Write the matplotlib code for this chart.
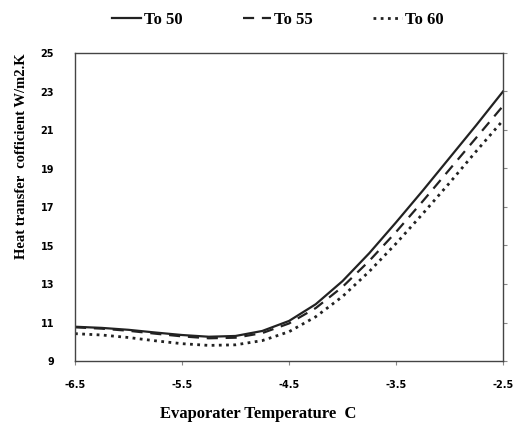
import matplotlib.pyplot as plt

temps = [-6.5, -6.25, -6.0, -5.75, -5.5, -5.25, -5.0, -4.75, -4.5,
         -4.25, -4.0, -3.75, -3.5, -3.25, -3.0, -2.75, -2.5]
to50 = [10.78, 10.72, 10.62, 10.48, 10.35, 10.26, 10.3, 10.56, 11.08,
        11.95, 13.15, 14.6, 16.2, 17.85, 19.55, 21.25, 23.0]
to55 = [10.75, 10.68, 10.57, 10.42, 10.28, 10.18, 10.21, 10.45, 10.95,
        11.75, 12.85, 14.2, 15.7, 17.3, 18.95, 20.6, 22.25]
to60 = [10.42, 10.35, 10.22, 10.05, 9.9, 9.81, 9.84, 10.06, 10.52,
        11.3, 12.35, 13.65, 15.1, 16.65, 18.25, 19.9, 21.5]
xticks = [-6.5, -5.5, -4.5, -3.5, -2.5]
yticks = [9, 11, 13, 15, 17, 19, 21, 23, 25]

fig = plt.figure(figsize=(5.14, 4.23), dpi=100)
ax = fig.add_axes([75 / 514, 62 / 423, 428 / 514, 308 / 423])

col = '#222222'
ax.plot(temps, to50, '-', color=col, lw=1.6, label='To 50')
ax.plot(temps, to55, color=col, lw=1.6, linestyle=(0, (5, 3.5)), label='To 55')
ax.plot(temps, to60, color=col, lw=2.0, linestyle=(0, (1, 1.6)), label='To 60')

ax.set_xlim(-6.5, -2.5)
ax.set_ylim(9, 25)
ax.set_xticks(xticks)
ax.set_xticklabels([str(t) for t in xticks])
ax.set_yticks(yticks)
ax.set_yticklabels([str(t) for t in yticks])
ax.tick_params(axis='y', left=False, right=True, direction='out', length=3,
               color='#888888', labelsize=7, pad=12)
ax.tick_params(axis='x', direction='out', length=3, color='#888888',
               labelsize=7, pad=11)
for lab in ax.get_xticklabels() + ax.get_yticklabels():
    lab.set_fontweight('bold')
for sp in ax.spines.values():
    sp.set_color('#444444')
    sp.set_linewidth(1.0)

fig.text(258 / 514, 1 - 414 / 423, 'Evaporater Temperature  C', ha='center', va='center',
         family='Liberation Serif', fontweight='bold', fontsize=12)
fig.text(22 / 514, 1 - 156 / 423, 'Heat transfer  cofficient W/m2.K', ha='center', va='center',
         rotation=90, family='Liberation Serif', fontweight='bold', fontsize=10.5)

fig.legend(loc='center', bbox_to_anchor=(278 / 514, 1 - 20 / 423), ncol=3, frameon=False,
           handlelength=1.7, handletextpad=0.2, columnspacing=3.6,
           prop={'family': 'Liberation Serif', 'weight': 'bold', 'size': 12})

fig.savefig('out.png', dpi=100)
